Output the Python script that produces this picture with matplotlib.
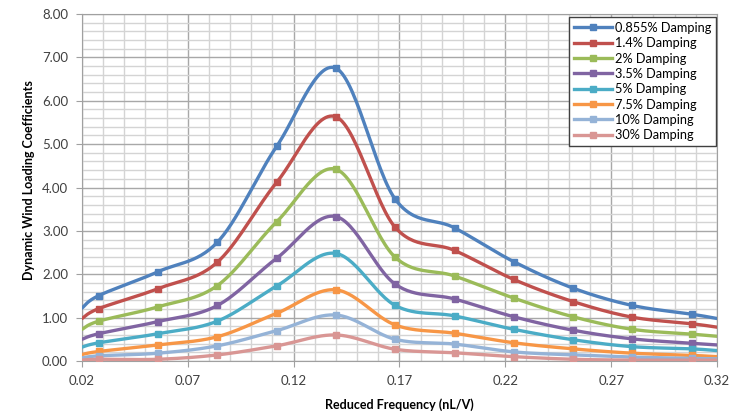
import numpy as np
import matplotlib.pyplot as plt
from matplotlib.ticker import MultipleLocator, FormatStrFormatter

plt.rcParams['font.family'] = ['Lato', 'DejaVu Sans']

# reduced frequency of the measured points
freq = [0.028, 0.056, 0.084, 0.112, 0.140, 0.168, 0.196, 0.224, 0.252, 0.280, 0.308]
# curve values at the ends of the plotted range (lines run to the axes edges)
x_lo, x_hi = 0.02, 0.32

labels = ['0.855% Damping', '1.4% Damping', '2% Damping', '3.5% Damping',
          '5% Damping', '7.5% Damping', '10% Damping', '30% Damping']
colors = ['#4F81BD', '#C0504D', '#9BBB59', '#8064A2',
          '#4BACC6', '#F79646', '#95B3D7', '#D99694']

d0855 = [1.51, 2.06, 2.74, 4.95, 6.75, 3.73, 3.07, 2.29, 1.68, 1.28, 1.08]
d14 = [1.21, 1.67, 2.28, 4.12, 5.63, 3.08, 2.55, 1.88, 1.37, 1.01, 0.86]
d2 = [0.92, 1.25, 1.74, 3.21, 4.42, 2.39, 1.96, 1.45, 1.02, 0.73, 0.62]
d35 = [0.63, 0.91, 1.28, 2.37, 3.33, 1.77, 1.43, 1.02, 0.71, 0.51, 0.41]
d5 = [0.42, 0.63, 0.92, 1.73, 2.48, 1.28, 1.04, 0.73, 0.49, 0.33, 0.28]
d75 = [0.22, 0.37, 0.56, 1.10, 1.64, 0.83, 0.64, 0.42, 0.28, 0.18, 0.13]
d10 = [0.12, 0.18, 0.35, 0.70, 1.06, 0.50, 0.39, 0.21, 0.14, 0.09, 0.06]
d30 = [0.04, 0.04, 0.14, 0.35, 0.60, 0.27, 0.19, 0.10, 0.04, 0.02, 0.02]
series = [d0855, d14, d2, d35, d5, d75, d10, d30]

edge_lo = [1.22, 0.98, 0.73, 0.50, 0.32, 0.15, 0.07, 0.02]
edge_hi = [0.98, 0.78, 0.57, 0.37, 0.24, 0.10, 0.05, 0.02]


def smooth(xs, ys, n=30):
    # Catmull-Rom style bezier through every point, like a spreadsheet smoothed line
    p = np.column_stack([xs, ys])
    out = [p[0]]
    for i in range(len(p) - 1):
        a = p[max(i - 1, 0)]
        b = p[i]
        c = p[i + 1]
        d = p[min(i + 2, len(p) - 1)]
        c1 = b + (c - a) / 6.0
        c2 = c - (d - b) / 6.0
        t = np.linspace(0, 1, n)[1:, None]
        seg = ((1 - t) ** 3 * b + 3 * (1 - t) ** 2 * t * c1
               + 3 * (1 - t) * t ** 2 * c2 + t ** 3 * c)
        out.extend(seg)
    out = np.array(out)
    return out[:, 0], out[:, 1]


fig = plt.figure(figsize=(7.34, 4.12), dpi=100)
ax = fig.add_axes([0.1117, 0.1238, 0.8651, 0.8422])

for ys, lo, hi, col, lab in zip(series, edge_lo, edge_hi, colors, labels):
    xs = [x_lo] + freq + [x_hi]
    yy = [lo] + ys + [hi]
    sx, sy = smooth(xs, yy)
    ax.plot(sx, sy, color=col, lw=2.4, solid_capstyle='round', zorder=3)
    ax.plot(freq, ys, ls='none', marker='s', ms=5, color=col, zorder=4)
    # legend proxy
    ax.plot([], [], color=col, lw=2.4, marker='s', ms=5, label=lab)

ax.set_xlim(0.02, 0.32)
ax.set_ylim(0, 8)
ax.xaxis.set_minor_locator(MultipleLocator(0.01))
ax.yaxis.set_major_locator(MultipleLocator(1))
ax.yaxis.set_minor_locator(MultipleLocator(0.2))
ax.xaxis.set_major_formatter(FormatStrFormatter('%.2f'))
ax.yaxis.set_major_formatter(FormatStrFormatter('%.2f'))
ax.set_xticks(np.arange(0.02, 0.321, 0.05))

ax.grid(which='major', color='#a8a8a8', lw=1.0, zorder=0)
ax.grid(which='minor', color='#d4d4d4', lw=1.0, zorder=0)
ax.set_axisbelow(True)
for s in ax.spines.values():
    s.set_color('#a0a0a0')
ax.tick_params(which='major', direction='out', length=4, color='#a0a0a0',
               labelsize=9.5, labelcolor='#404040', pad=6)
ax.tick_params(which='minor', length=0)

ax.set_xlabel('Reduced Frequency (nL/V)', fontsize=9, fontweight='bold', labelpad=8)
ax.set_ylabel('Dynamic Wind Loading Coefficients', fontsize=9, fontweight='bold')
ax.yaxis.set_label_coords(-0.074, 0.52)

leg = ax.legend(loc='upper right', bbox_to_anchor=(0.998, 0.99), fontsize=9.2,
                frameon=True, fancybox=False, handlelength=3.0, handletextpad=0.2,
                labelspacing=0.26, borderpad=0.35, borderaxespad=0.0)
leg.get_frame().set_edgecolor('#404040')
leg.get_frame().set_linewidth(1.0)
leg.get_frame().set_alpha(1)

fig.savefig('out.png', dpi=100)
